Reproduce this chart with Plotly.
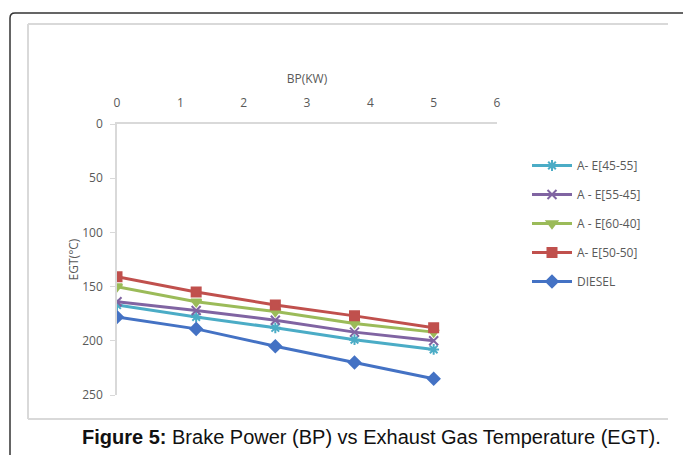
import plotly.graph_objects as go

bp = [0, 1.25, 2.5, 3.75, 5]
series_names = ["A- E[45-55]", "A - E[55-45]", "A - E[60-40]", "A- E[50-50]", "DIESEL"]
egt_45_55 = [167, 178, 188, 199, 208]
egt_55_45 = [164, 172, 181, 192, 200]
egt_60_40 = [150, 164, 173, 184, 192]
egt_50_50 = [141, 155, 167, 177, 188]
egt_diesel = [178, 189, 205, 220, 235]
x_ticks = [0, 1, 2, 3, 4, 5, 6]
y_ticks = [0, 50, 100, 150, 200, 250]

series_values = [egt_45_55, egt_55_45, egt_60_40, egt_50_50, egt_diesel]
colors = ["#4BACC6", "#8064A2", "#9BBB59", "#C0504D", "#4472C4"]
symbols = ["asterisk-open", "x-thin-open", "triangle-down", "square", "diamond"]

W, H = 683, 455
L, R, T, B = 117, 497, 124, 395

fig = go.Figure()
for i, (name, vals) in enumerate(zip(series_names, series_values)):
    fig.add_trace(go.Scatter(
        x=bp, y=vals, name=name, mode="lines+markers",
        legendgroup=f"g{i}",
        line=dict(color=colors[i], width=3),
        marker=dict(symbol=symbols[i], size=9, color=colors[i],
                    line=dict(color=colors[i], width=2)),
    ))

def px(x):
    return (x - L) / (R - L)

def py(y):
    return (B - y) / (B - T)

shapes = []
# outer frame with rounded corner
x0, y0, r = 10, 13, 5
path = (f"M {px(x0)},{py(H + 5)} L {px(x0)},{py(y0 + r)} "
        f"Q {px(x0)},{py(y0)} {px(x0 + r)},{py(y0)} L {px(W + 5)},{py(y0)}")
shapes.append(dict(type="path", xref="paper", yref="paper", path=path,
                   line=dict(color="#333333", width=1.5)))
# inner chart box
for (xa, ya, xb, yb) in [(28, 24, 668, 24), (28, 24, 28, 419), (28, 419, 668, 419)]:
    shapes.append(dict(type="line", xref="paper", yref="paper",
                       x0=px(xa), y0=py(ya), x1=px(xb), y1=py(yb),
                       line=dict(color="#D9D9D9", width=2)))

fig.update_layout(
    width=W, height=H,
    margin=dict(l=L, r=W - R, t=T, b=H - B),
    paper_bgcolor="white", plot_bgcolor="white",
    font=dict(family="Open Sans, Liberation Sans, sans-serif", color="#595959", size=12),
    shapes=shapes,
    showlegend=True,
    legend=dict(x=px(527), y=py(151), xanchor="left", yanchor="top",
                traceorder="grouped", tracegroupgap=10,
                font=dict(size=12, color="#595959"), bgcolor="rgba(0,0,0,0)",
                itemwidth=40),
    xaxis=dict(range=[0, 6], side="top", tickvals=x_ticks, ticktext=[str(v) for v in x_ticks],
               showgrid=False, zeroline=False, showline=True, linecolor="#D9D9D9", linewidth=1.5,
               ticks="", ticklabelstandoff=10, tickfont=dict(size=12, color="#595959"),
               title=dict(text="BP(KW)", font=dict(size=12, color="#595959"), standoff=8)),
    yaxis=dict(range=[250, 0], tickvals=y_ticks, ticktext=[str(v) for v in y_ticks],
               showgrid=False, zeroline=False, showline=True, linecolor="#D9D9D9", linewidth=1.5,
               ticks="outside", ticklen=5, tickcolor="#D9D9D9", ticklabelstandoff=5,
               tickfont=dict(size=12, color="#595959"),
               title=dict(text="EGT(°C)", font=dict(size=12, color="#595959"), standoff=0)),
    annotations=[dict(
        text="<b>Figure 5:</b> Brake Power (BP) vs Exhaust Gas Temperature (EGT).",
        xref="paper", yref="paper", x=px(371), y=py(437), xanchor="center", yanchor="middle",
        showarrow=False, font=dict(family="Liberation Sans, Arial, sans-serif", size=20, color="#111111"))],
)

fig.write_html("out.html")
